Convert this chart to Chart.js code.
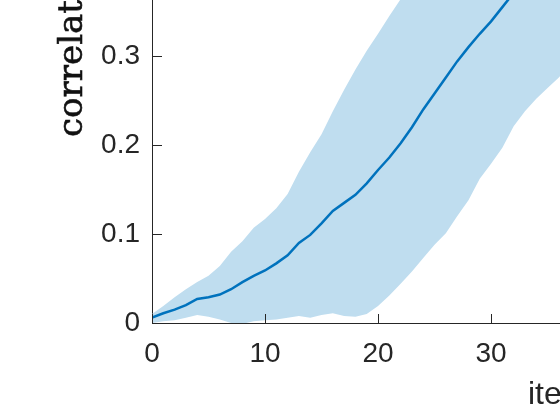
<!DOCTYPE html>
<html>
<head>
<meta charset="utf-8">
<script src="https://cdn.jsdelivr.net/npm/chart.js@4/dist/chart.umd.min.js"></script>
<style>
html,body{margin:0;padding:0;background:#fff;}
</style>
</head>
<body>
<canvas id="myChart" width="560" height="420"></canvas>
<script>
// data
const iters = [0,1,2,3,4,5,6,7,8,9,10,11,12,13,14,15,16,17,18,19,20,21,22,23,24,25,26,27,28,29,30,31,32,33,34,35,36,37];
const meanCorr = [0.006,0.011,0.015,0.020,0.027,0.029,0.032,0.038,0.046,0.053,0.059,0.067,0.076,0.090,0.099,0.112,0.126,0.135,0.144,0.157,
  0.172,0.186,0.202,0.220,0.240,0.258,0.276,0.294,0.310,0.325,0.339,0.355,0.371,0.387,0.403,0.419,0.434,0.449];
const upperCorr = [0.010,0.019,0.029,0.038,0.046,0.053,0.064,0.080,0.092,0.107,0.117,0.129,0.145,0.170,0.192,0.212,0.238,0.262,0.285,0.306,
  0.325,0.345,0.364,0.382,0.400,0.418,0.434,0.450,0.465,0.480,0.494,0.508,0.521,0.534,0.546,0.558,0.569,0.580];
const lowerCorr = [0.000,0.002,0.003,0.006,0.009,0.007,0.004,0.000,-0.001,0.002,0.003,0.004,0.006,0.008,0.006,0.009,0.011,0.008,0.007,0.010,
  0.019,0.031,0.044,0.058,0.073,0.088,0.101,0.120,0.138,0.162,0.179,0.197,0.221,0.238,0.252,0.264,0.276,0.288];
const xTicks = [0,10,20,30];
const yTicks = [0,0.1,0.2,0.3];
const yLabel = "correlation";
const xLabel = "iterations";

const axisColor = "#262626";
const pts = (arr) => iters.map((v,i) => ({x:v, y:arr[i]}));

// matlab style ticks pointing inwards + axis labels
const extras = {
  id: "extras",
  afterDraw(chart){
    const ctx = chart.ctx;
    const xs = chart.scales.x, ys = chart.scales.y;
    const area = chart.chartArea;
    ctx.save();
    ctx.strokeStyle = axisColor;
    ctx.lineWidth = 1;
    ctx.beginPath();
    xTicks.forEach(v => {
      const px = Math.round(xs.getPixelForValue(v)) + 0.5;
      ctx.moveTo(px, area.bottom);
      ctx.lineTo(px, area.bottom - 9);
    });
    yTicks.forEach(v => {
      const py = Math.round(ys.getPixelForValue(v)) + 0.5;
      ctx.moveTo(area.left, py);
      ctx.lineTo(area.left + 10, py);
    });
    ctx.stroke();

    ctx.fillStyle = "#111";
    ctx.strokeStyle = "#111";
    ctx.lineWidth = 0.6;
    ctx.font = "34px 'DejaVu Serif'";
    ctx.translate(82, 137);
    ctx.rotate(-Math.PI/2);
    ctx.textAlign = "left";
    ctx.textBaseline = "alphabetic";
    ctx.fillText(yLabel, 0, 0);
    ctx.strokeText(yLabel, 0, 0);
    ctx.restore();

    ctx.save();
    ctx.fillStyle = axisColor;
    ctx.font = "32px 'Liberation Sans'";
    ctx.textAlign = "left";
    ctx.textBaseline = "alphabetic";
    ctx.fillText(xLabel, 528, 404);
    ctx.restore();
  }
};

new Chart("myChart", {
  type: "line",
  data: {
    datasets: [{
      data: pts(meanCorr),
      borderColor: "#0072BD",
      borderWidth: 2.5,
      pointRadius: 0,
      fill: false
    }, {
      data: pts(upperCorr),
      borderWidth: 0,
      borderColor: "rgba(0,0,0,0)",
      backgroundColor: "#BFDDEF",
      pointRadius: 0,
      fill: "+1"
    }, {
      data: pts(lowerCorr),
      borderWidth: 0,
      borderColor: "rgba(0,0,0,0)",
      pointRadius: 0,
      fill: false
    }]
  },
  options: {
    responsive: false,
    animation: false,
    layout: {padding: 0},
    plugins: {legend: {display:false}, tooltip: {enabled:false}},
    scales: {
      x: {
        type: "linear",
        min: 0,
        max: 36.1,
        afterBuildTicks: (s) => { s.ticks = xTicks.map(v => ({value:v})); },
        afterFit: (s) => { s.height = 97; s.paddingLeft = 0; s.paddingRight = 0; },
        grid: {display:true, drawOnChartArea:false, drawTicks:false},
        border: {display:true, color:axisColor, width:1},
        ticks: {
          color: axisColor,
          padding: 14,
          maxRotation: 0,
          font: {family:"'Liberation Sans'", size:28},
          callback: (v) => String(v)
        }
      },
      y: {
        min: 0,
        max: 0.363,
        afterBuildTicks: (s) => { s.ticks = yTicks.map(v => ({value:v})); },
        afterFit: (s) => { s.width = 152; s.paddingTop = 0; s.paddingBottom = 0; },
        grid: {display:true, drawOnChartArea:false, drawTicks:false},
        border: {display:true, color:axisColor, width:1},
        ticks: {
          color: axisColor,
          padding: 12,
          font: {family:"'Liberation Sans'", size:28},
          callback: (v) => String(v)
        }
      }
    }
  },
  plugins: [extras]
});
</script>
</body>
</html>
